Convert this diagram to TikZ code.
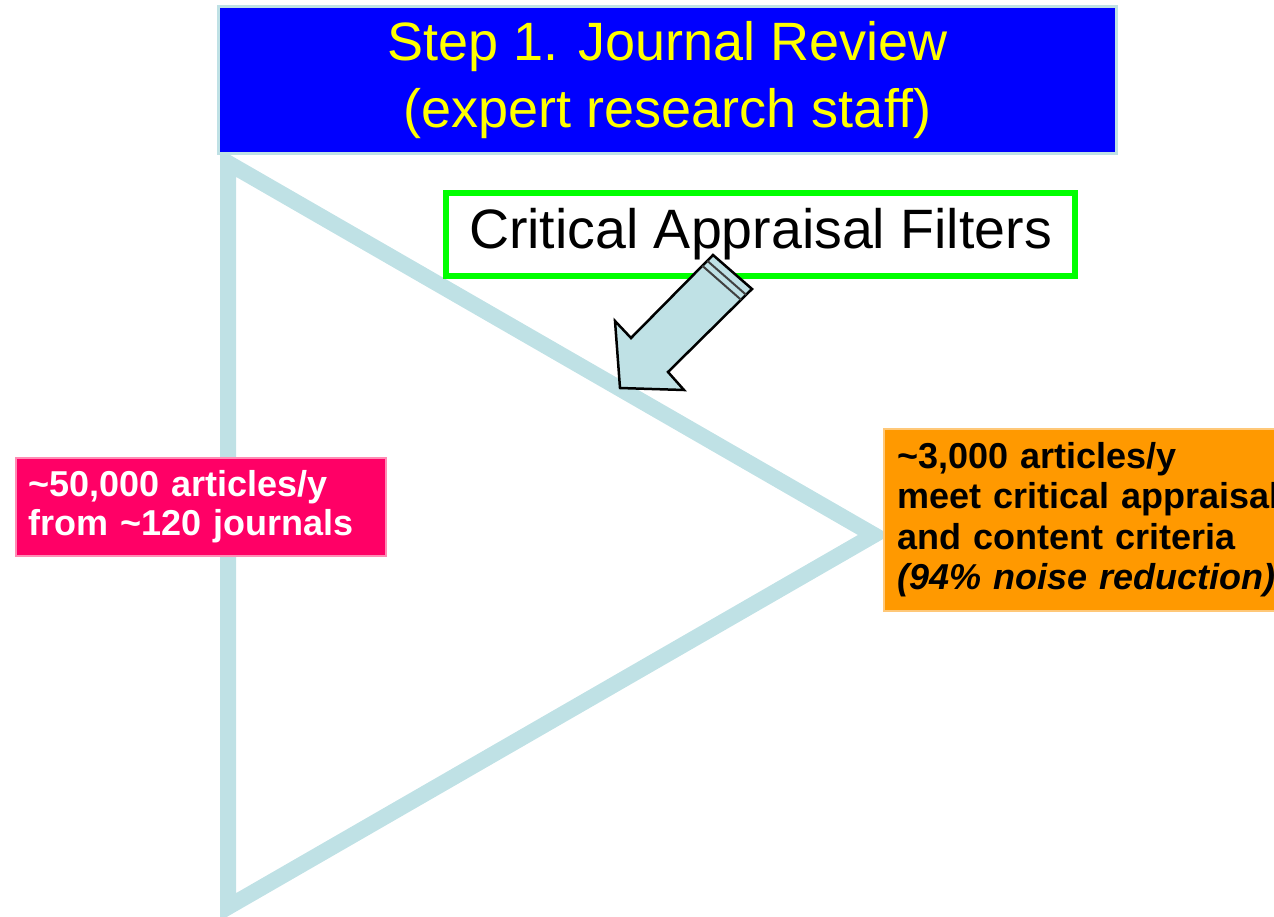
\documentclass[tikz,border=0pt]{standalone}
\usepackage{fontspec}
\setmainfont{Liberation Sans}
\usetikzlibrary{calc}
\definecolor{tricol}{RGB}{191,225,229}
\definecolor{boxblue}{RGB}{0,0,255}
\definecolor{titleyellow}{RGB}{255,255,0}
\definecolor{filtgreen}{RGB}{0,255,0}
\definecolor{pinkfill}{RGB}{255,0,102}
\definecolor{pinkedge}{RGB}{255,140,180}
\definecolor{orangefill}{RGB}{255,153,0}
\definecolor{orangeedge}{RGB}{255,200,120}
\tikzset{
  tri/.style={draw=tricol, line width=16pt, line join=miter},
  titlebox/.style={fill=boxblue, draw=tricol, line width=3pt, text=titleyellow,
    font=\fontsize{54}{67}\selectfont, align=center, inner sep=0pt},
  filterbox/.style={fill=white, draw=filtgreen, line width=6pt,
    font=\fontsize{55.5}{60}\selectfont, inner sep=0pt},
  pinkbox/.style={fill=pinkfill, draw=pinkedge, line width=1.5pt, text=white,
    font=\bfseries\fontsize{36}{39}\selectfont, align=left, inner xsep=13pt, inner ysep=0pt},
  orangebox/.style={fill=orangefill, draw=orangeedge, line width=1.5pt, text=black,
    font=\bfseries\fontsize{36}{40.5}\selectfont, align=left, inner xsep=14pt, inner ysep=0pt},
  blockarrow/.style={fill=tricol, draw=black, line width=2.5pt, line join=miter},
  stripe/.style={draw=black!75, line width=2pt}
}
\begin{document}
\begin{tikzpicture}[x=1pt,y=-1pt]
\useasboundingbox (0,0) rectangle (1274,917);
\clip (0,0) rectangle (1274,917);
% triangle
\coordinate (tl) at (228,163);
\coordinate (apex) at (874,535);
\coordinate (bl) at (228,907);
\draw[tri] (tl) -- (apex) -- (bl) -- cycle;
% title box
\node[titlebox, anchor=north west, minimum width=898pt, minimum height=147pt] (title) at (217,5)
  {Step 1. Journal Review\\(expert research staff)};
% filter box
\node[filterbox, minimum width=629pt, minimum height=83pt] (filters) at (760.5,234.5)
  {\raisebox{-4pt}{Critical Appraisal Filters}};
% block arrow
\coordinate (a1) at (713,255);
\coordinate (a2) at (752,289);
\coordinate (a3) at (668,372);
\coordinate (a4) at (684,390);
\coordinate (a5) at (620,388);
\coordinate (a6) at (615,321);
\coordinate (a7) at (631,338);
\draw[blockarrow] (a1) -- (a2) -- (a3) -- (a4) -- (a5) -- (a6) -- (a7) -- cycle;
\draw[stripe] ($(a1)!0.07!(a7)$) -- ($(a2)!0.07!(a3)$);
\draw[stripe] ($(a1)!0.13!(a7)$) -- ($(a2)!0.13!(a3)$);
% pink box
\node[pinkbox, anchor=north west, text width=344pt, minimum height=98pt] (input) at (15,457)
  {\mbox{\textasciitilde 50,000 articles/y}\\\mbox{from \textasciitilde 120 journals}};
% orange box
\node[orangebox, anchor=north west, text width=480pt, minimum height=182pt] (output) at (883,428)
  {\textasciitilde 3,000 articles/y\\meet critical appraisal\\and content criteria\\\textit{(94\% noise reduction)}};
\end{tikzpicture}
\end{document}
